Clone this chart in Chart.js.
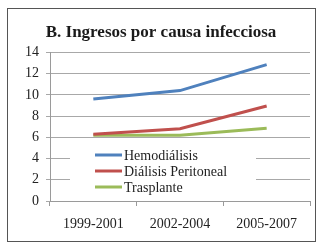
<!DOCTYPE html>
<html>
<head>
<meta charset="utf-8">
<script src="https://cdn.jsdelivr.net/npm/chart.js@4"></script>
<style>
  html, body { margin: 0; padding: 0; background: #fff; }
  #wrap { position: relative; width: 327px; height: 251px; }
  #frame { position: absolute; left: 7px; top: 8px; width: 307px; height: 232px; border: 1px solid #555; pointer-events: none; }
  canvas { position: absolute; left: 0; top: 0; }
</style>
</head>
<body>
<div id="wrap">
  <canvas id="chart" width="327" height="251"></canvas>
  <div id="frame"></div>
</div>
<script>
const categories = ['1999-2001', '2002-2004', '2005-2007'];
const hemodialisis = [9.6, 10.4, 12.85];
const dialisisPeritoneal = [6.3, 6.8, 8.95];
const trasplante = [6.2, 6.2, 6.85];
const yTicks = [0, 2, 4, 6, 8, 10, 12, 14];

const serif = "'Liberation Serif', 'DejaVu Serif', serif";

// legend drawn inside the plot on a white box, like the original
const insideLegend = {
  id: 'insideLegend',
  afterDatasetsDraw(chart) {
    const ctx = chart.ctx;
    ctx.save();
    ctx.fillStyle = '#fff';
    ctx.fillRect(70, 145, 186, 52);
    ctx.font = '14px ' + serif;
    ctx.textBaseline = 'middle';
    chart.data.datasets.forEach((ds, i) => {
      const y = 155 + i * 16;
      ctx.strokeStyle = ds.borderColor;
      ctx.lineWidth = 3;
      ctx.beginPath();
      ctx.moveTo(95, y);
      ctx.lineTo(122, y);
      ctx.stroke();
      ctx.fillStyle = '#222';
      ctx.fillText(ds.label, 124, y + 1);
    });
    ctx.restore();
  }
};

new Chart(document.getElementById('chart'), {
  type: 'line',
  data: {
    labels: categories,
    datasets: [
      { label: 'Hemodiálisis', data: hemodialisis, borderColor: '#4f81bd', borderWidth: 3, pointRadius: 0 },
      { label: 'Diálisis Peritoneal', data: dialisisPeritoneal, borderColor: '#c0504d', borderWidth: 3, pointRadius: 0 },
      { label: 'Trasplante', data: trasplante, borderColor: '#9bbb59', borderWidth: 3, pointRadius: 0 }
    ]
  },
  options: {
    responsive: false,
    animation: false,
    layout: { padding: { left: 12, right: 17, top: 0, bottom: 0 } },
    plugins: {
      legend: { display: false },
      tooltip: { enabled: false },
      title: {
        display: true,
        text: 'B. Ingresos por causa infecciosa',
        color: '#1a1a1a',
        font: { family: serif, size: 17, weight: 'bold' },
        padding: { top: 22, bottom: 10 }
      }
    },
    scales: {
      x: {
        offset: true,
        afterFit(scale) { scale.height = 50; },
        grid: { offset: true, drawOnChartArea: false, tickLength: 5, color: '#9a9a9a' },
        border: { color: '#9a9a9a' },
        ticks: { color: '#222', font: { family: serif, size: 14 }, padding: 10, maxRotation: 0 }
      },
      y: {
        min: 0,
        max: 14,
        afterFit(scale) { scale.width = 38; },
        afterBuildTicks(scale) { scale.ticks = yTicks.map(v => ({ value: v })); },
        grid: { color: '#a8a8a8', tickLength: 4 },
        border: { color: '#9a9a9a' },
        ticks: { color: '#222', font: { family: serif, size: 14 }, padding: 7 }
      }
    }
  },
  plugins: [insideLegend]
});
</script>
</body>
</html>
